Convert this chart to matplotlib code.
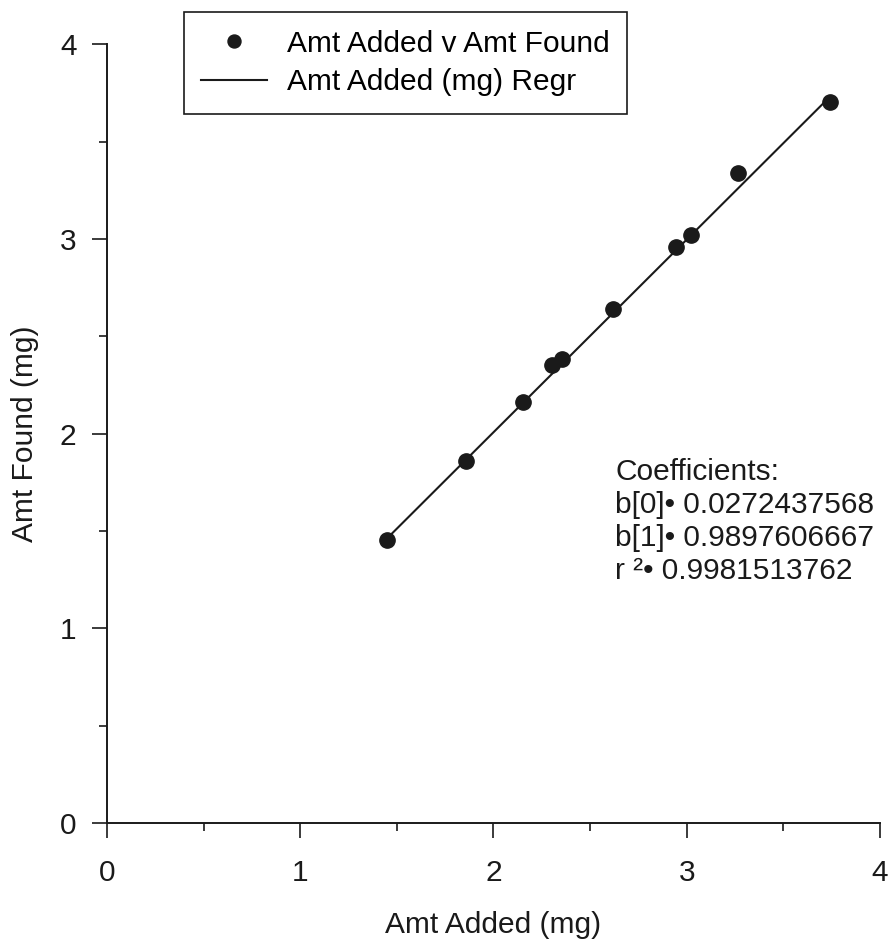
import matplotlib.pyplot as plt
import numpy as np

plt.rcParams['font.family'] = ['Liberation Sans', 'DejaVu Sans']

# data
amt_added = [1.447, 1.856, 2.153, 2.304, 2.356, 2.617, 2.943, 3.020, 3.265, 3.743]
amt_found = [1.453, 1.860, 2.162, 2.352, 2.381, 2.638, 2.959, 3.018, 3.336, 3.704]
b0 = 0.0272437568
b1 = 0.9897606667
r2 = 0.9981513762
tick_vals = [0, 1, 2, 3, 4]

ink = '#1a1a1a'
fs = 21.5

fig = plt.figure(figsize=(8.92, 9.4), dpi=100)
ax = fig.add_axes([0.12, 0.1245, 0.8665, 0.8285])

ax.plot(amt_added, amt_found, 'o', color=ink, ms=11,
        label='Amt Added v Amt Found')
xr = np.array([min(amt_added), max(amt_added)])
ax.plot(xr, b0 + b1 * xr, '-', color=ink, lw=1.5,
        label='Amt Added (mg) Regr')

ax.set_xlim(0, 4)
ax.set_ylim(0, 4)
ax.set_xticks(tick_vals)
ax.set_yticks(tick_vals)
ax.set_xticks(np.arange(0.5, 4, 1), minor=True)
ax.set_yticks(np.arange(0.5, 4, 1), minor=True)
ax.tick_params(which='major', direction='out', length=11, width=1.2,
               labelsize=fs, color=ink, labelcolor=ink)
ax.tick_params(which='minor', direction='out', length=6, width=1.2, color=ink)
ax.tick_params(axis='x', which='major', pad=15)
ax.tick_params(axis='y', which='major', pad=11)
for side in ['top', 'right']:
    ax.spines[side].set_visible(False)
for side in ['left', 'bottom']:
    ax.spines[side].set_linewidth(1.4)
    ax.spines[side].set_color(ink)

ax.set_xlabel('Amt Added (mg)', fontsize=fs, labelpad=17, color=ink)
ax.set_ylabel('Amt Found (mg)', fontsize=fs, labelpad=15, color=ink)

ax.text(2.629, 1.875,
        'Coefficients:\n'
        f'b[0]\u2022 {b0:.10f}\n'
        f'b[1]\u2022 {b1:.10f}\n'
        f'r \u00b2\u2022 {r2:.10f}',
        fontsize=fs, va='top', ha='left', linespacing=1.23, color=ink)

leg = ax.legend(loc='upper left', bbox_to_anchor=(0.0996, 1.041), fontsize=fs,
                fancybox=False, edgecolor=ink, framealpha=1, borderaxespad=0,
                handlelength=2.2, handletextpad=0.67, borderpad=0.58,
                labelspacing=0.36, markerscale=0.85)
leg.get_frame().set_linewidth(1.2)

plt.savefig('out.png', dpi=100)
